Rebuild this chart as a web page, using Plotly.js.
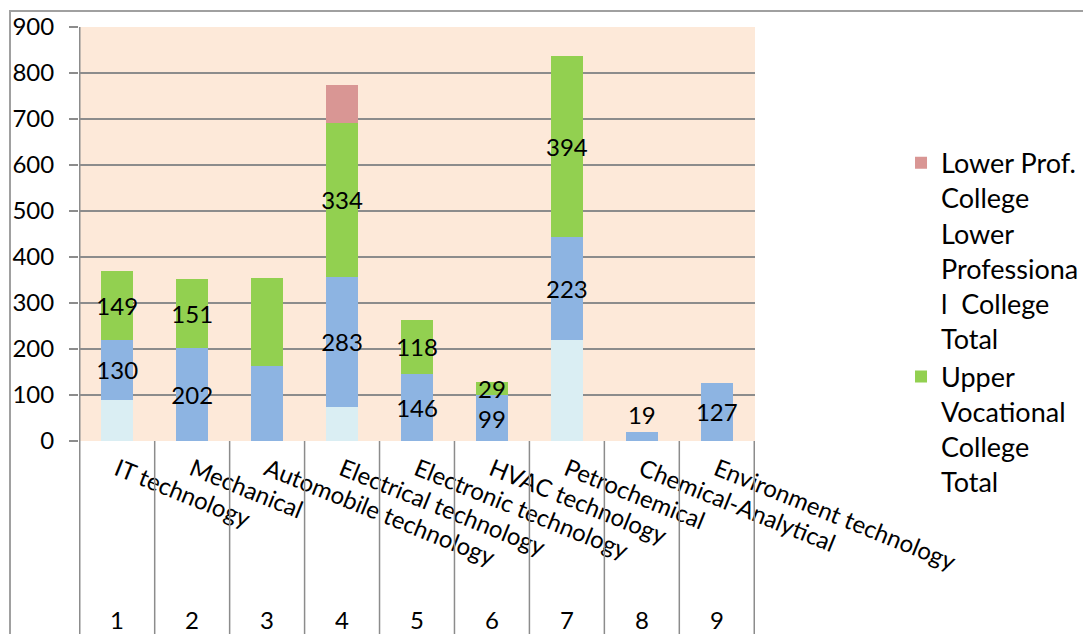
<!DOCTYPE html>
<html>
<head>
<meta charset="utf-8">
<script src="https://cdn.plot.ly/plotly-3.0.1.min.js"></script>
<style>
  html, body { margin: 0; padding: 0; background: #fff; }
  #chart { width: 1083px; height: 634px; position: absolute; left: 0; top: 0; }
  #frame { position: absolute; left: 9px; top: 10px; width: 1074px; height: 624px;
           border-left: 2px solid #a0a0a0; border-top: 2px solid #a0a0a0; pointer-events: none; box-sizing: border-box; }
</style>
</head>
<body>
<div id="chart"></div>
<div id="frame"></div>
<script>
// ---- data ----
const categories = ['IT technology', 'Mechanical', 'Automobile technology', 'Electrical technology',
  'Electronic technology', 'HVAC technology', 'Petrochemical', 'Chemical-Analytical', 'Environment technology'];
const categoryNumbers = ['1', '2', '3', '4', '5', '6', '7', '8', '9'];
const baseValues = [90, 0, 0, 74, 0, 0, 220, 0, 0];
const blueValues = [130, 202, 163, 283, 146, 99, 223, 19, 127];
const blueLabels = ['130', '202', '', '283', '146', '99', '223', '19', '127'];
const upperVocValues = [149, 151, 191, 334, 118, 29, 394, 0, 0];
const upperVocLabels = ['149', '151', '', '334', '118', '29', '394', '', ''];
const lowerProfValues = [0, 0, 0, 82, 0, 0, 0, 0, 0];
const lowerProfName = 'Lower Prof.<br>College<br>Lower<br>Professiona<br>l  College<br>Total';
const upperVocName = 'Upper<br>Vocational<br>College<br>Total';
const yTicks = [0, 100, 200, 300, 400, 500, 600, 700, 800, 900];

const FONT = 'Lato, "Open Sans", sans-serif';
const labelFont = {family: FONT, size: 24, color: '#000'};

const traces = [
  {type: 'bar', x: categories, y: baseValues, marker: {color: '#DAEEF3'}, showlegend: false, hoverinfo: 'skip'},
  {type: 'bar', x: categories, y: blueValues, marker: {color: '#8DB4E2'}, showlegend: false,
   text: blueLabels, textposition: blueValues.map(v => v < 40 ? 'outside' : 'inside'),
   insidetextanchor: 'middle', constraintext: 'none', textangle: 0, textfont: labelFont, cliponaxis: false},
  {type: 'bar', x: categories, y: upperVocValues, marker: {color: '#92D050'}, name: upperVocName,
   legendgroup: 'upper',
   text: upperVocLabels, textposition: 'inside', insidetextanchor: 'middle', constraintext: 'none',
   textangle: 0, textfont: labelFont},
  {type: 'bar', x: categories, y: lowerProfValues, marker: {color: '#D99694'}, name: lowerProfName,
   legendgroup: 'lower'}
];

const shapes = [];
for (let i = 0; i <= categories.length; i++) {
  shapes.push({type: 'line', xref: 'x', yref: 'paper', x0: i - 0.5, x1: i - 0.5, y0: 0, y1: -0.48,
               line: {color: '#8c8c8c', width: 1.5}});
}
shapes.push({type: 'line', xref: 'x', yref: 'paper', x0: -0.5, x1: -0.5, y0: 0, y1: 1,
             line: {color: '#8c8c8c', width: 1.5}});

const annotations = categoryNumbers.map((n, i) => ({
  x: categories[i], xref: 'x', y: -0.431, yref: 'paper', text: n, showarrow: false,
  font: {family: FONT, size: 24, color: '#000'}, yanchor: 'middle', height: 24, borderpad: 0
}));

const layout = {
  width: 1083, height: 634,
  margin: {l: 79, r: 328, t: 27, b: 193, pad: 0, autoexpand: false},
  paper_bgcolor: '#ffffff', plot_bgcolor: '#FDE9D9',
  barmode: 'stack', bargap: 0.57,
  font: {family: FONT, color: '#000'},
  xaxis: {type: 'category', tickangle: 22, tickfont: {family: FONT, size: 24, color: '#000'},
          showgrid: false, zeroline: false, showline: false, ticks: '', ticklabelstandoff: 9,
          automargin: false, fixedrange: true},
  yaxis: {range: [0, 900], tickvals: yTicks, ticktext: yTicks.map(String), showgrid: true,
          gridcolor: '#8c8c8c', gridwidth: 1.5, zeroline: false, showline: false,
          ticks: 'outside', ticklen: 9, tickcolor: '#8c8c8c', tickwidth: 1.5, ticklabelstandoff: 10,
          tickfont: {family: FONT, size: 24, color: '#000'}, automargin: false, fixedrange: true},
  legend: {x: 1.216, xanchor: 'left', y: 0.73, yanchor: 'top', traceorder: 'reversed', valign: 'top',
           tracegroupgap: 6,
           font: {family: FONT, size: 27, color: '#000'}, bgcolor: 'rgba(0,0,0,0)'},
  shapes: shapes,
  annotations: annotations,
  showlegend: true
};

Plotly.newPlot('chart', traces, layout, {displayModeBar: false, staticPlot: true});
</script>
</body>
</html>
